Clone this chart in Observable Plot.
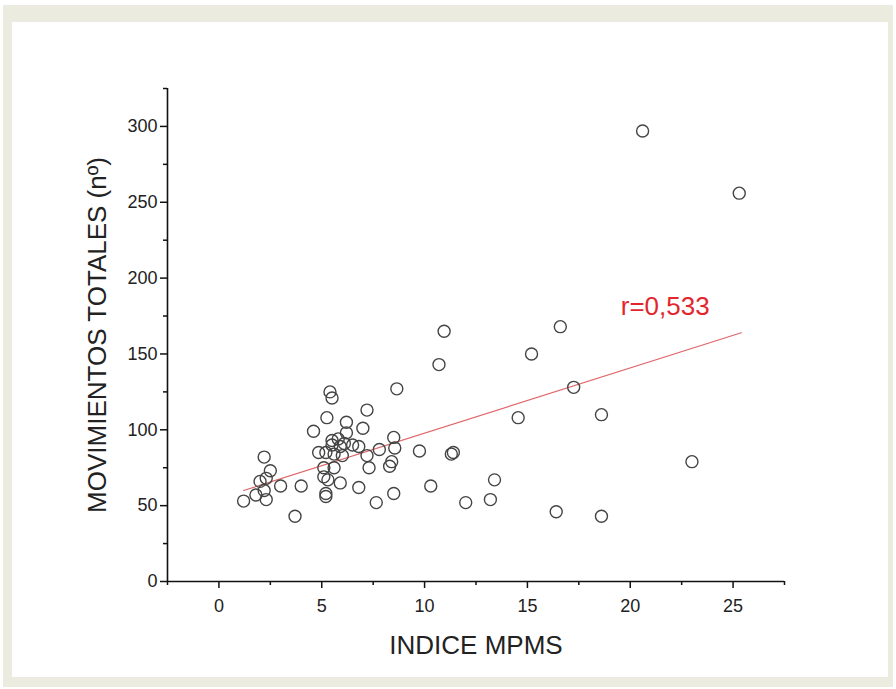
<!DOCTYPE html>
<html>
<head>
<meta charset="utf-8">
<script src="https://cdn.jsdelivr.net/npm/d3@7"></script>
<script src="https://cdn.jsdelivr.net/npm/@observablehq/plot@0.6"></script>
<style>
  html, body { margin: 0; padding: 0; background: #ffffff; }
  #outer { position: absolute; left: 3px; top: 5px; width: 890px; height: 682px; background: #ecebe0; }
  #inner { position: absolute; left: 9px; top: 17px; width: 876px; height: 655px; background: #ffffff; }
  #chart { position: absolute; left: 0; top: 0; }
</style>
</head>
<body>
<div id="outer"><div id="inner"></div></div>
<div id="chart"></div>
<script>
// Data
const indiceMPMS = [1.2, 1.8, 2.0, 2.2, 2.2, 2.3, 2.3, 2.5, 3.0, 3.7, 4.0, 4.6, 4.85, 5.1, 5.1, 5.2, 5.2, 5.2, 5.25, 5.3,
  5.4, 5.5, 5.6, 5.5, 5.8, 5.6, 5.5, 5.9, 6.0, 6.1, 5.9, 6.2, 6.2, 6.5, 6.8, 6.8, 7.0, 7.2, 7.2, 7.3,
  7.65, 7.8, 8.3, 8.4, 8.5, 8.55, 8.5, 8.65, 9.75, 10.3, 10.7, 10.95, 11.3, 11.4, 12.0, 13.2, 13.4, 14.55, 15.2, 16.4,
  16.6, 17.25, 18.6, 18.6, 20.6, 23.0, 25.3];
const movimientos = [53, 57, 66, 82, 60, 54, 68, 73, 63, 43, 63, 99, 85, 75, 69, 85, 58, 56, 108, 67,
  125, 121, 75, 93, 94, 84, 90, 89, 83, 91, 65, 105, 98, 90, 89, 62, 101, 113, 83, 75,
  52, 87, 76, 79, 95, 88, 58, 127, 86, 63, 143, 165, 84, 85, 52, 54, 67, 108, 150, 46,
  168, 128, 110, 43, 297, 79, 256];
const fitX = [1.2, 25.4];
const fitY = [60, 164];
const xMajor = [0, 5, 10, 15, 20, 25];
const xMinor = [-2.5, 2.5, 7.5, 12.5, 17.5, 22.5, 27.5];
const yMajor = [0, 50, 100, 150, 200, 250, 300];
const yMinor = [25, 75, 125, 175, 225, 275, 325];
const xTitle = "INDICE MPMS";
const yTitle = "MOVIMIENTOS TOTALES (nº)";
const rLabel = ["r=0,533"];
const rLabelX = [21.7];
const rLabelY = [181];

const points = indiceMPMS.map((x, i) => ({x, y: movimientos[i]}));
const fit = fitX.map((x, i) => ({x, y: fitY[i]}));

const font = "'Liberation Sans', Arial, sans-serif";

const chart = Plot.plot({
  width: 896,
  height: 689,
  marginLeft: 167,
  marginRight: 112,
  marginTop: 88,
  marginBottom: 108,
  style: {background: "transparent", fontFamily: font, color: "#222"},
  x: {domain: [-2.5, 27.5]},
  y: {domain: [0, 325]},
  marks: [
    Plot.axisX({ticks: xMajor, tickSize: 7, tickPadding: 11, fontSize: 18, label: null, stroke: "#111", strokeWidth: 1.5}),
    Plot.axisX({ticks: xMinor, tickSize: 4, tickFormat: () => "", label: null, stroke: "#111", strokeWidth: 1.5}),
    Plot.axisY({ticks: yMajor, tickSize: 7, tickPadding: 3, fontSize: 18, label: null, stroke: "#111", strokeWidth: 1.5}),
    Plot.axisY({ticks: yMinor, tickSize: 4, tickFormat: () => "", label: null, stroke: "#111", strokeWidth: 1.5}),
    Plot.ruleY([0], {stroke: "#111", strokeWidth: 1.6}),
    Plot.ruleX([-2.5], {stroke: "#111", strokeWidth: 1.6}),
    Plot.line(fit, {x: "x", y: "y", stroke: "#e0666a", strokeWidth: 1.2}),
    Plot.dot(points, {x: "x", y: "y", r: 6, stroke: "#444", strokeWidth: 1.4, fill: "none"}),
    Plot.text(rLabel, {x: rLabelX, y: rLabelY, text: d => d, fill: "#e3262d", fontSize: 26}),
    Plot.text([xTitle], {frameAnchor: "bottom", dy: 72, text: d => d, fontSize: 26, fill: "#222", textAnchor: "middle"}),
    Plot.text([yTitle], {frameAnchor: "left", dx: -70, rotate: -90, text: d => d, fontSize: 26, fill: "#222", textAnchor: "middle"})
  ]
});
document.getElementById("chart").appendChild(chart);
</script>
</body>
</html>
